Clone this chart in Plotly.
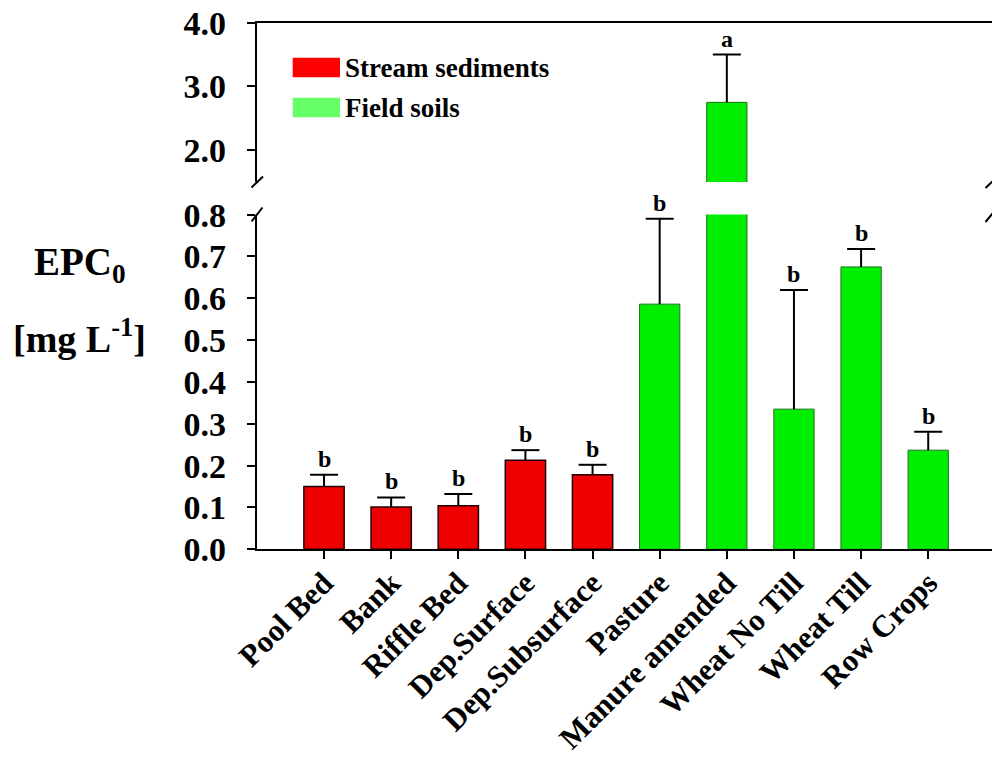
import plotly.graph_objects as go

categories = ["Pool Bed", "Bank", "Riffle Bed", "Dep.Surface", "Dep.Subsurface",
              "Pasture", "Manure amended", "Wheat No Till", "Wheat Till", "Row Crops"]
groups = ["stream"] * 5 + ["field"] * 5
means = [0.150, 0.101, 0.104, 0.213, 0.178, 0.586, 2.75, 0.335, 0.675, 0.237]
upper = [0.178, 0.124, 0.132, 0.237, 0.202, 0.790, 3.50, 0.620, 0.718, 0.281]
letters = ["b", "b", "b", "b", "b", "b", "a", "b", "b", "b"]
legend_names = {"stream": "Stream sediments", "field": "Field soils"}
lower_ticks = [0.0, 0.1, 0.2, 0.3, 0.4, 0.5, 0.6, 0.7, 0.8]
upper_ticks = [2.0, 3.0, 4.0]

# the page's body margin is removed (post_script), so the figure fills the window
W, H = 992, 759
def px(x):
    return x / W
def py(y):
    return 1 - y / H

FONT = "Liberation Serif, Times New Roman, serif"
bar_fill = {"stream": "#EE0000", "field": "#00EE00"}
bar_line = {"stream": "#200000", "field": "#207020"}
legend_fill = {"stream": "#FF0000", "field": "#66FF66"}

LOWER_MAX = 0.8
UPPER_MIN = 1.5

fig = go.Figure()
for g in ["stream", "field"]:
    for panel in ["lower", "upper"]:
        sel = [i for i in range(len(categories)) if groups[i] == g and
               (panel == "lower" or means[i] > LOWER_MAX)]
        if not sel:
            continue
        xa, ya = ("x", "y") if panel == "lower" else ("x2", "y2")
        fig.add_trace(go.Bar(
            x=[categories[i] for i in sel], y=[means[i] for i in sel], width=0.6,
            xaxis=xa, yaxis=ya,
            marker=dict(color=bar_fill[g],
                        line=dict(color=bar_line[g], width=1.5 if g == "stream" else 1)),
            showlegend=False, hoverinfo="skip"))

# error bars (upper only): stems + caps
for panel in ["lower", "upper"]:
    xa, ya = ("x", "y") if panel == "lower" else ("x2", "y2")
    sx, sy, cx, cy = [], [], [], []
    for c, m, u in zip(categories, means, upper):
        if panel == "lower" and u > LOWER_MAX:
            continue
        if panel == "upper" and m <= LOWER_MAX:
            continue
        sx += [c, c, None]
        sy += [m, u, None]
        cx.append(c)
        cy.append(u)
    fig.add_trace(go.Scatter(x=sx, y=sy, mode="lines", xaxis=xa, yaxis=ya,
                             line=dict(color="black", width=2),
                             showlegend=False, hoverinfo="skip"))
    fig.add_trace(go.Scatter(x=cx, y=cy, mode="markers", xaxis=xa, yaxis=ya,
                             marker=dict(symbol="line-ew", size=20, color="black",
                                         line=dict(color="black", width=2)),
                             showlegend=False, hoverinfo="skip"))

# significance letters
for c, u, m, l in zip(categories, upper, means, letters):
    on_upper = m > LOWER_MAX
    fig.add_annotation(x=c, y=u, xref="x2" if on_upper else "x", yref="y2" if on_upper else "y",
                       text=f"<b>{l}</b>", showarrow=False, yanchor="bottom", yshift=1,
                       font=dict(family=FONT, size=24, color="black"))

ax_common = dict(showline=True, linecolor="black", linewidth=2, ticks="outside",
                 tickcolor="black", tickwidth=2, ticklen=8, showgrid=False, zeroline=False,
                 automargin=False)

xdom = [px(256.9), 1.0]
fig.update_layout(
    width=W, height=H, margin=dict(l=0, r=0, t=0, b=0, autoexpand=False),
    paper_bgcolor="white", plot_bgcolor="white", barmode="overlay",
    xaxis=dict(domain=xdom, range=[-1, 9.95], anchor="y", type="category",
               categoryorder="array", categoryarray=categories,
               tickangle=-45, ticklabelstandoff=-7,
               tickfont=dict(family=FONT, size=31, color="black", weight="bold"), **ax_common),
    xaxis2=dict(domain=xdom, range=[-1, 9.95], anchor="y2", type="category", matches="x",
                categoryorder="array", categoryarray=categories,
                side="top", showline=True, linecolor="black", linewidth=2,
                showticklabels=False, ticks="", showgrid=False, zeroline=False,
                automargin=False),
    yaxis=dict(domain=[py(549.3), py(214.6)], range=[0, LOWER_MAX], anchor="x",
               tickvals=lower_ticks, tickformat=".1f", ticklabelstandoff=14,
               ticklabeloverflow="allow",
               tickfont=dict(family=FONT, size=34, color="black", weight="bold"), **ax_common),
    yaxis2=dict(domain=[py(182.0), py(22.7)], range=[UPPER_MIN, 4.0], anchor="x2",
                tickvals=upper_ticks, tickformat=".1f", ticklabelstandoff=14,
                ticklabeloverflow="allow",
                tickfont=dict(family=FONT, size=34, color="black", weight="bold"), **ax_common),
)

# legend (drawn manually to match swatch style)
for i, g in enumerate(["stream", "field"]):
    y0, y1 = 57.7 + 40 * i, 77.3 + 40 * i
    fig.add_shape(type="rect", xref="paper", yref="paper",
                  x0=px(292.7), x1=px(340), y0=py(y1), y1=py(y0),
                  fillcolor=legend_fill[g], line=dict(width=0))
    fig.add_annotation(xref="paper", yref="paper", x=px(343), y=py((y0 + y1) / 2),
                       xanchor="left", yanchor="middle", showarrow=False,
                       text=f"<b>{legend_names[g]}</b>",
                       font=dict(family=FONT, size=27, color="black"))

# axis break marks
for (x0, y0, x1, y1) in [(251.5, 187.5, 263, 176.5), (251.5, 221.5, 262.5, 207.5),
                          (985.5, 188, 997, 177), (985.5, 222, 997, 208)]:
    fig.add_shape(type="line", xref="paper", yref="paper",
                  x0=px(x0), y0=py(y0), x1=px(x1), y1=py(y1),
                  line=dict(color="black", width=2))

# y-axis title
fig.add_annotation(xref="paper", yref="paper", x=px(80), y=py(264), showarrow=False,
                   xanchor="center", yanchor="middle", text="<b>EPC<sub>0</sub></b>",
                   font=dict(family=FONT, size=39, color="black"))
fig.add_annotation(xref="paper", yref="paper", x=px(79), y=py(336), showarrow=False,
                   xanchor="center", yanchor="middle", text="<b>[mg L<sup>-1</sup>]</b>",
                   font=dict(family=FONT, size=38, color="black"))

fig.write_html("out.html", config={"displayModeBar": False},
               post_script="document.body.style.margin='0';")
